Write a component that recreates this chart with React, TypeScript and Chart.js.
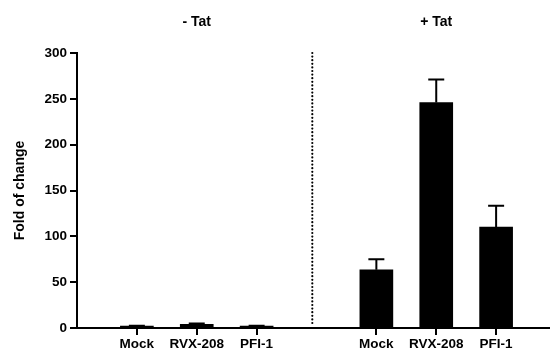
import React, { useEffect, useRef } from "react";
import { Chart, registerables } from "chart.js";

Chart.register(...registerables);

const categories = ["Mock", "RVX-208", "PFI-1"];
const groups = ["- Tat", "+ Tat"];
const minusTatValues = [2, 4, 2];
const minusTatErrors = [0.5, 0.8, 0.5];
const plusTatValues = [63.5, 246, 110];
const plusTatErrors = [11.5, 25, 23.5];
const yTicks = [0, 50, 100, 150, 200, 250, 300];

// slot positions on the x axis (group 0 at 0..2, group 1 at 4..6)
const minusPositions = [0, 1, 2];
const plusPositions = [4, 5, 6];
const dividerPosition = 2.93;

const FONT = "'Liberation Sans', Arial, Helvetica, sans-serif";

const labelAt: Record<number, string> = {};
minusPositions.forEach((p, i) => (labelAt[p] = categories[i]));
plusPositions.forEach((p, i) => (labelAt[p] = categories[i]));

const errorBarPlugin = {
  id: "errorBars",
  afterDatasetsDraw(chart: any) {
    const ctx = chart.ctx;
    const yScale = chart.scales.y;
    chart.data.datasets.forEach((ds: any, di: number) => {
      const meta = chart.getDatasetMeta(di);
      meta.data.forEach((el: any, i: number) => {
        const v = ds.data[i].y;
        const e = ds.errors[i];
        const top = yScale.getPixelForValue(v + e);
        ctx.save();
        ctx.strokeStyle = "#000";
        ctx.lineWidth = 2;
        ctx.beginPath();
        ctx.moveTo(el.x, el.y);
        ctx.lineTo(el.x, top);
        ctx.moveTo(el.x - 8, top);
        ctx.lineTo(el.x + 8, top);
        ctx.stroke();
        ctx.restore();
      });
    });
  },
};

const decorPlugin = {
  id: "decor",
  afterDraw(chart: any) {
    const ctx = chart.ctx;
    const xScale = chart.scales.x;
    const yScale = chart.scales.y;
    ctx.save();
    ctx.fillStyle = "#000";
    ctx.font = `bold 14px ${FONT}`;
    ctx.textAlign = "center";
    ctx.textBaseline = "middle";
    ctx.fillText(groups[0], xScale.getPixelForValue(minusPositions[1]), 22);
    ctx.fillText(groups[1], xScale.getPixelForValue(plusPositions[1]), 22);
    // x-axis tick marks under each bar
    const base = Math.round(yScale.getPixelForValue(0));
    [...minusPositions, ...plusPositions].forEach((p) => {
      const px = Math.round(xScale.getPixelForValue(p));
      ctx.fillRect(px - 1, base, 2, 7);
    });
    // dotted divider
    const dx = xScale.getPixelForValue(dividerPosition);
    ctx.strokeStyle = "#000";
    ctx.lineWidth = 2.2;
    ctx.lineCap = "round";
    ctx.setLineDash([0, 3.6]);
    ctx.beginPath();
    ctx.moveTo(dx, yScale.getPixelForValue(300));
    ctx.lineTo(dx, base - 3);
    ctx.stroke();
    ctx.restore();
  },
};

export default function App() {
  const ref = useRef<HTMLCanvasElement>(null);

  useEffect(() => {
    if (!ref.current) return;
    const chart = new Chart(ref.current, {
      type: "bar",
      data: {
        datasets: [
          {
            label: groups[0],
            data: minusPositions.map((x, i) => ({ x, y: minusTatValues[i] })),
            errors: minusTatErrors,
            backgroundColor: "#000",
            borderWidth: 0,
            barThickness: 33,
            grouped: false,
          } as any,
          {
            label: groups[1],
            data: plusPositions.map((x, i) => ({ x, y: plusTatValues[i] })),
            errors: plusTatErrors,
            backgroundColor: "#000",
            borderWidth: 0,
            barThickness: 33,
            grouped: false,
          } as any,
        ],
      },
      plugins: [errorBarPlugin, decorPlugin],
      options: {
        animation: false,
        responsive: false,
        layout: { padding: { top: 53, right: 0, left: 0, bottom: 0 } },
        plugins: {
          legend: { display: false },
          tooltip: { enabled: false },
        },
        scales: {
          x: {
            type: "linear",
            offset: false,
            min: -1,
            max: 6.9,
            afterBuildTicks: (scale: any) => {
              scale.ticks = [...minusPositions, ...plusPositions].map((v) => ({ value: v }));
            },
            afterFit: (scale: any) => {
              scale.height = 22;
            },
            ticks: {
              autoSkip: false,
              maxRotation: 0,
              padding: 2,
              color: "#000",
              font: { family: FONT, size: 13.5, weight: "bold" },
              callback: (v: any) => labelAt[v as number] ?? "",
            },
            grid: {
              display: false,
              offset: false,
              drawOnChartArea: false,
              drawTicks: true,
              tickLength: 6,
            },
            border: { display: true, color: "#000", width: 2 },
          },
          y: {
            min: 0,
            max: 300,
            afterBuildTicks: (scale: any) => {
              scale.ticks = yTicks.map((v) => ({ value: v }));
            },
            afterFit: (scale: any) => {
              scale.width = 77;
            },
            ticks: {
              padding: 3,
              color: "#000",
              font: { family: FONT, size: 13.5, weight: "bold" },
            },
            grid: {
              display: true,
              drawOnChartArea: false,
              drawTicks: true,
              tickLength: 7,
              color: "#000",
              lineWidth: 2,
            },
            border: { display: true, color: "#000", width: 2 },
            title: {
              display: true,
              text: "Fold of change",
              color: "#000",
              font: { family: FONT, size: 14, weight: "bold" },
              padding: { top: 12, bottom: 0 },
            },
          },
        },
      } as any,
    });
    return () => chart.destroy();
  }, []);

  return (
    <div style={{ position: "absolute", left: 0, top: 0, width: 550, height: 350, background: "#fff" }}>
      <canvas ref={ref} width={550} height={350} />
    </div>
  );
}
